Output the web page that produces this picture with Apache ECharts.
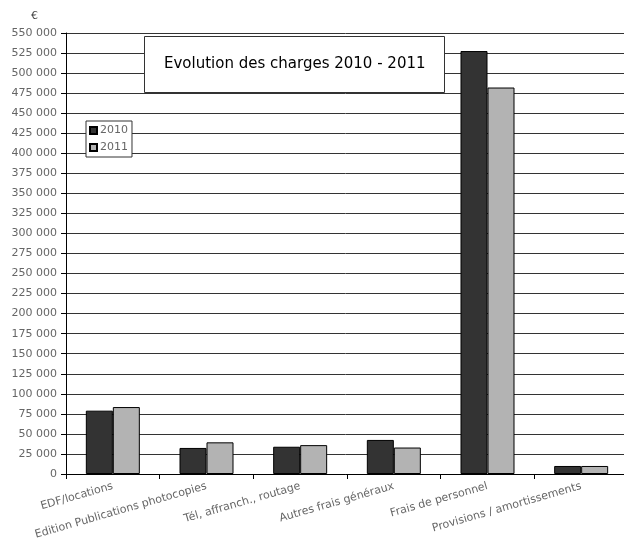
<!DOCTYPE html>
<html>
<head>
<meta charset="utf-8">
<script src="https://cdn.jsdelivr.net/npm/echarts@6/dist/echarts.min.js"></script>
<style>html,body{margin:0;padding:0;background:#fff}#c{width:624px;height:540px}</style>
</head>
<body>
<div id="c"></div>
<script>
const categories = ['EDF/locations', 'Edition Publications photocopies', 'Tél, affranch., routage', 'Autres frais généraux', 'Frais de personnel', 'Provisions / amortissements'];
const values2010 = [79000, 32500, 34000, 42500, 527500, 10000];
const values2011 = [83500, 39500, 36000, 33000, 482000, 10000];
const seriesNames = ['2010', '2011'];

const chart = echarts.init(document.getElementById('c'));
const font = 'DejaVu Sans';
chart.setOption({
  animation: false,
  backgroundColor: '#fff',
  textStyle: { fontFamily: font },
  title: {
    text: 'Evolution des charges 2010 - 2011',
    left: 144, top: 36,
    padding: [21, 19, 21, 20],
    borderColor: '#333', borderWidth: 1, backgroundColor: '#fff',
    textStyle: { fontFamily: font, fontSize: 15, fontWeight: 'normal', color: '#000' }
  },
  legend: {
    orient: 'vertical', left: 86, top: 121,
    padding: [4, 4, 4, 3],
    borderColor: '#333', borderWidth: 1, backgroundColor: '#fff',
    itemWidth: 7, itemHeight: 7, itemGap: 6,
    icon: 'rect',
    textStyle: { fontFamily: font, fontSize: 11, color: '#666', padding: [0, 0, 0, -2] },
    data: seriesNames
  },
  graphic: [{ type: 'text', left: 31, top: 11, style: { text: '€', fontFamily: font, fontSize: 11, fill: '#444' } }],
  grid: { left: 66, top: 33, width: 562, height: 441, containLabel: false, outerBoundsMode: 'none' },
  xAxis: {
    type: 'category', data: categories,
    axisLine: { lineStyle: { color: '#000', width: 1 } },
    axisTick: { show: true, length: 5, lineStyle: { color: '#000' } },
    axisLabel: { rotate: 16, fontSize: 11, color: '#666', fontFamily: font, margin: 12, interval: 0 }
  },
  yAxis: {
    type: 'value', min: 0, max: 550000, interval: 25000,
    axisLine: { show: true, lineStyle: { color: '#000' } },
    axisTick: { show: true, length: 5, lineStyle: { color: '#000' } },
    splitLine: { lineStyle: { color: '#333', width: 1 } },
    axisLabel: {
      fontSize: 11, color: '#666', fontFamily: font, margin: 9,
      formatter: v => v === 0 ? '0' : String(v).replace(/\B(?=(\d{3})+(?!\d))/g, ' ')
    }
  },
  series: [
    { name: seriesNames[0], type: 'bar', data: values2010, barWidth: 27, barGap: '0%',
      itemStyle: { color: '#333333', borderColor: '#000', borderWidth: 1 } },
    { name: seriesNames[1], type: 'bar', data: values2011, barWidth: 27, barGap: '0%',
      itemStyle: { color: '#b3b3b3', borderColor: '#000', borderWidth: 1 } }
  ]
});
</script>
</body>
</html>
